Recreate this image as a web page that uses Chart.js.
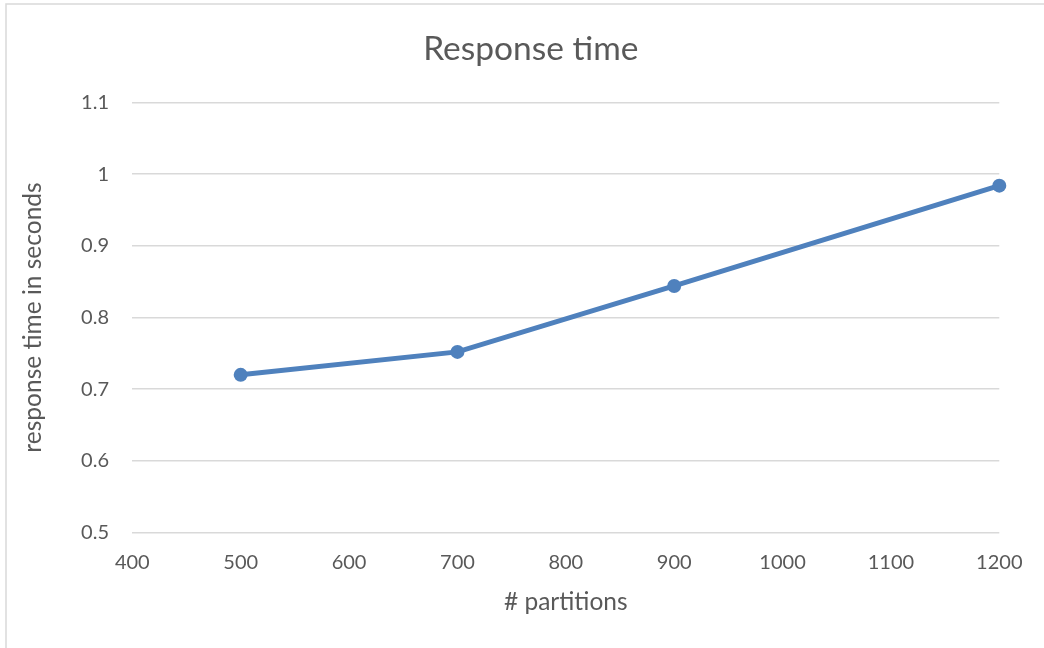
<!DOCTYPE html>
<html>
<head>
<meta charset="utf-8">
<script src="https://cdn.jsdelivr.net/npm/chart.js@4"></script>
<style>
  html, body { margin: 0; padding: 0; background: #fff; overflow: hidden; }
  #wrap { width: 1044px; height: 648px; position: relative; }
</style>
</head>
<body>
<div id="wrap"><canvas id="c" width="1044" height="648"></canvas></div>
<script>
// Partition counts and measured response times (seconds)
const partitions = [500, 700, 900, 1200];
const responseSeconds = [0.72, 0.752, 0.844, 0.984];

// Axis ranges and tick spacing
const xTicks = { min: 400, max: 1200, step: 100 };
const yTicks = { min: 0.5, max: 1.1, step: 0.1 };

const chartTitle = 'Response time';
const xTitle = '# partitions';
const yTitle = 'response time in seconds';

const textColor = '#595959';
const gridColor = '#d9d9d9';
const lineColor = '#4f81bd';
const fontFamily = 'Lato, "Open Sans", sans-serif';

// Thin frame around the chart, plus the title centred over the plot area
const decorPlugin = {
  id: 'decor',
  beforeDraw(chart) {
    const ctx = chart.ctx;
    ctx.save();
    ctx.strokeStyle = gridColor;
    ctx.lineWidth = 1.5;
    ctx.beginPath();
    ctx.moveTo(6, chart.height + 2);
    ctx.lineTo(6, 4);
    ctx.lineTo(chart.width + 2, 4);
    ctx.stroke();
    ctx.restore();
  },
  afterDraw(chart) {
    const ctx = chart.ctx;
    const area = chart.chartArea;
    ctx.save();
    ctx.fillStyle = textColor;
    ctx.font = '33.5px ' + fontFamily;
    ctx.textAlign = 'center';
    ctx.textBaseline = 'alphabetic';
    ctx.fillText(chartTitle, (area.left + area.right) / 2 - 35, 59.5);
    ctx.restore();
  }
};

new Chart(document.getElementById('c'), {
  type: 'line',
  data: {
    datasets: [{
      label: chartTitle,
      data: partitions.map((x, i) => ({ x, y: responseSeconds[i] })),
      borderColor: lineColor,
      backgroundColor: lineColor,
      borderWidth: 5,
      pointRadius: 7,
      pointHoverRadius: 7,
      pointBorderWidth: 0,
      pointBackgroundColor: lineColor,
      tension: 0,
      clip: false
    }]
  },
  options: {
    responsive: false,
    animation: false,
    layout: { padding: { left: 0, right: 44.7, top: 102.5, bottom: 0 } },
    plugins: {
      legend: { display: false },
      tooltip: { enabled: false },
      title: { display: false }
    },
    scales: {
      x: {
        type: 'linear',
        min: xTicks.min,
        max: xTicks.max,
        grid: { display: false, drawTicks: false },
        border: { display: false },
        ticks: {
          stepSize: xTicks.step,
          color: textColor,
          padding: 18.5,
          font: { family: fontFamily, size: 20 },
          maxRotation: 0,
          callback: v => String(v)
        },
        title: {
          display: true,
          text: xTitle,
          color: textColor,
          font: { family: fontFamily, size: 24.5 },
          padding: { top: 0, bottom: 31.3 }
        },
        afterFit(scale) { scale.height = 115.5; }
      },
      y: {
        min: yTicks.min,
        max: yTicks.max,
        grid: { color: gridColor, lineWidth: 1.5, drawTicks: false },
        border: { display: false },
        ticks: {
          stepSize: yTicks.step,
          color: textColor,
          padding: 23.3,
          font: { family: fontFamily, size: 20 },
          callback: v => String(Number(v.toFixed(1)))
        },
        title: {
          display: true,
          text: yTitle,
          color: textColor,
          font: { family: fontFamily, size: 24.5 },
          padding: { top: 18.3, bottom: 0 }
        },
        afterFit(scale) { scale.width = 132.3; }
      }
    }
  },
  plugins: [decorPlugin]
});
</script>
</body>
</html>
